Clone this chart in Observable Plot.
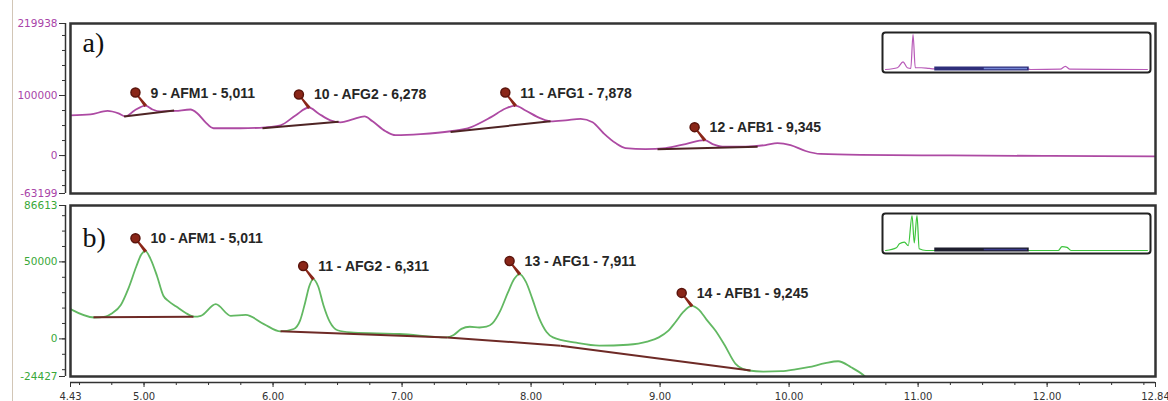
<!DOCTYPE html>
<html>
<head>
<meta charset="utf-8">
<script src="https://cdn.jsdelivr.net/npm/d3@7"></script>
<script src="https://cdn.jsdelivr.net/npm/@observablehq/plot@0.6"></script>
<style>
  html, body { margin: 0; padding: 0; background: #fff; }
  #chart { position: relative; width: 1168px; height: 401px; overflow: hidden; background: #fff; }
  #chart .edge { position: absolute; left: 12px; top: 0; height: 401px; border-left: 1.5px solid #d2c6b6; }
  #chart .slot { position: absolute; }
</style>
</head>
<body>
<div id="chart"><div class="edge"></div></div>
<script>
// ---- shared time axis (min) ----
const timeDomain = [4.43, 12.84];
const timeTicks = [4.43, 5, 6, 7, 8, 9, 10, 11, 12, 12.84];

// ---- a) magenta trace ----
const aYDomain = [-63199, 219938];
const aYTicks = [-63199, 0, 100000, 219938];
const aTime = [4.43, 4.585, 4.717, 4.802, 4.856, 4.926, 5.066, 5.128, 5.244, 5.36, 5.414, 5.477, 5.539,
  5.748, 5.942, 6.058, 6.174, 6.352, 6.445, 6.523, 6.616, 6.709, 6.771, 6.872, 6.949, 7.143, 7.376,
  7.531, 7.686, 7.802, 7.957, 8.074, 8.151, 8.267, 8.384, 8.477, 8.562, 8.655, 8.732, 8.887, 9.042,
  9.197, 9.407, 9.484, 9.663, 9.818, 9.91, 10.011, 10.128, 10.244, 10.554, 11.252, 12.027, 12.84];
const aSignal = [66840, 68490, 74250, 70130, 65190, 75070, 76720, 73430, 74250, 76720, 70130, 55320, 45440,
  45440, 47090, 50380, 66840, 70130, 58610, 55320, 60260, 65190, 56960, 40500, 33920, 35570, 40500,
  47090, 63550, 78360, 75070, 61900, 56960, 58610, 61080, 55320, 37210, 20750, 12510, 10870, 12510,
  19090, 19090, 14980, 14980, 17460, 20750, 17460, 7580, 2640, 990, 170, -650, -1470];
const aPeakId = [9, 10, 11, 12];
const aPeakName = ["AFM1", "AFG2", "AFG1", "AFB1"];
const aPeakTime = [5.011, 6.278, 7.878, 9.345];
const aPeakHeight = [83300, 80010, 83300, 25690];
// integration baselines: [start time, start signal, end time, end signal]
const aBaselines = [
  [4.845, 65200, 5.233, 75070],
  [5.918, 45460, 6.508, 56160],
  [7.376, 39370, 8.151, 56980],
  [8.98, 10380, 9.756, 14660]
];

// ---- b) green trace ----
const bYDomain = [-24427, 86613];
const bYTicks = [-24427, 0, 50000, 86613];
const bTime = [4.43, 4.614, 4.70, 4.75, 4.82, 4.88, 4.94, 4.98, 5.05, 5.10, 5.15, 5.19, 5.25, 5.32, 5.389,
  5.44, 5.556, 5.672, 5.788, 5.929, 6.058, 6.16, 6.21, 6.25, 6.28, 6.35, 6.39, 6.44, 6.50, 6.60,
  6.805, 6.98, 7.345, 7.40, 7.46, 7.525, 7.60, 7.654, 7.70, 7.76, 7.82, 7.87, 7.96, 8.01, 8.06,
  8.12, 8.17, 8.35, 8.529, 8.75, 8.90, 8.99, 9.06, 9.12, 9.18, 9.30, 9.36, 9.43, 9.50, 9.585,
  9.64, 9.687, 9.80, 9.94, 10.05, 10.15, 10.28, 10.38, 10.48, 10.588, 10.65];
const bSignal = [19300, 13880, 14500, 16500, 22000, 33000, 47000, 55000, 52000, 41000, 28000, 24500, 21000, 17000, 14400,
  14980, 22530, 14980, 15620, 9620, 4840, 6400, 12000, 24000, 34000, 34000, 22000, 11000, 5600, 4200,
  3600, 3160, 970, 2500, 6500, 7880, 7400, 7900, 10000, 18000, 30000, 39000, 37000, 26000, 14000,
  4500, 970, -2500, -4390, -3800, -1800, 970, 5000, 11000, 17500, 19000, 12500, 5290, -4000, -16200,
  -19500, -20530, -21200, -20980, -19800, -18400, -15800, -14530, -18400, -24400, -30000];
const bPeakId = [10, 11, 13, 14];
const bPeakName = ["AFM1", "AFG2", "AFG1", "AFB1"];
const bPeakTime = [5.011, 6.311, 7.911, 9.245];
const bPeakHeight = [56940, 38860, 42090, 21430];
const bBaselines = [
  [4.608, 14010, 5.383, 14330],
  [6.058, 4970, 7.352, 970],
  [7.352, 970, 8.228, -4390],
  [8.228, -4390, 9.701, -20530]
];

// ---- overview insets (whole run, min vs % of max) ----
const overviewDomain = [0, 23.5];
const ovATime = [0.09, 1.15, 1.65, 2.03, 2.34, 2.54, 2.74, 3.27, 3.98, 4.43, 12.84, 13.0, 15.65, 16.1, 16.5, 23.4];
const ovASignal = [0, 5, 22, 5, 3, 100, 5, 5, 3, 2, 1, 0, 1, 9, 1, 0];
const ovBTime = [0.1, 1.06, 1.33, 1.77, 2.12, 2.45, 2.65, 2.89, 3.09, 3.7, 15.46, 15.8, 16.25, 16.6, 23.4];
const ovBSignal = [0, 8, 19, 24, 14, 100, 22, 100, 5, 0, 0, 11, 9, 0, 0];

const chart = document.getElementById("chart");
function place(svg, left, top) {
  const slot = document.createElement("div");
  slot.className = "slot";
  slot.style.left = left + "px";
  slot.style.top = top + "px";
  slot.append(svg);
  chart.append(slot);
}

const labelFont = "Liberation Sans, Arial, sans-serif";
const pinColor = "#8a2618";

function drawPanel(cfg) {
  // trace rows with the peak apexes merged in by time
  const rows = cfg.time.map((t, i) => ({t, v: cfg.signal[i]}))
    .concat(cfg.peakTime.map((t, i) => ({t, v: cfg.peakHeight[i]})))
    .sort((a, b) => a.t - b.t);
  const peaks = cfg.peakTime.map((t, i) => ({
    t, v: cfg.peakHeight[i],
    label: `${cfg.peakId[i]} - ${cfg.peakName[i]} - ${t.toFixed(3).replace(".", ",")}`
  }));
  const bases = cfg.baselines.map(([t1, v1, t2, v2]) => ({t1, v1, t2, v2}));
  const [y0, y1] = cfg.yDomain;
  const minor = d3.range(Math.ceil(y0 / cfg.minorStep) * cfg.minorStep, y1, cfg.minorStep);

  const marks = [
    // y axis line just left of the frame
    Plot.ruleX([timeDomain[0]], {dx: -5, stroke: "#333", strokeWidth: 1.5}),
    Plot.axisY({ticks: minor, tickSize: 3, dx: -5, stroke: "#333", tickFormat: () => ""}),
    Plot.axisY({ticks: cfg.yTicks, tickSize: 6, dx: -5, tickPadding: 2, stroke: "#333",
      fill: cfg.labelColor, fontSize: 10.5, tickFormat: d => String(d)}),
    Plot.line(rows, {x: "t", y: "v", stroke: cfg.color, strokeWidth: 1.8, curve: "monotone-x", clip: true}),
    Plot.link(bases, {x1: "t1", y1: "v1", x2: "t2", y2: "v2", stroke: cfg.baseColor, strokeWidth: 2}),
    Plot.vector(peaks, {x: "t", y: "v", rotate: -38, length: 16, anchor: "start", shape: "spike", r: 0.9,
      stroke: pinColor, fill: pinColor}),
    Plot.dot(peaks, {x: "t", y: "v", dx: -10, dy: -13, r: 4.5, fill: pinColor, stroke: "#5a140c"}),
    Plot.text(peaks, {x: "t", y: "v", text: "label", dx: 5, dy: -12.5, textAnchor: "start",
      fontFamily: labelFont, fontSize: 14, fontWeight: "bold", fill: "#262626"}),
    Plot.text([cfg.tag], {frameAnchor: "top-left", dx: 12, dy: cfg.tagDy, lineAnchor: "top", textAnchor: "start",
      fontFamily: "Liberation Serif, serif", fontSize: 28, fill: "#111"}),
    Plot.frame({stroke: "#333", strokeWidth: 2.5})
  ];
  if (cfg.timeAxis) {
    marks.unshift(
      Plot.ruleY([y0], {dy: 6, stroke: "#333", strokeWidth: 1.5}),
      Plot.axisX({ticks: d3.range(4.5, timeDomain[1], 0.25), tickSize: 3, dy: 6, stroke: "#333", tickFormat: () => ""}),
      Plot.axisX({ticks: timeTicks, tickSize: 5, dy: 6, tickPadding: 5, stroke: "#333", fill: "#333",
        fontSize: 10, tickFormat: d => d.toFixed(2)})
    );
  }
  return Plot.plot({
    width: 1168, height: cfg.height,
    marginLeft: 70, marginRight: 13, marginTop: cfg.marginTop, marginBottom: cfg.marginBottom,
    x: {domain: timeDomain, axis: null},
    y: {domain: cfg.yDomain, axis: null},
    style: {fontFamily: "DejaVu Sans, sans-serif", fontSize: "10px", background: "transparent", overflow: "visible"},
    marks
  });
}

function drawOverview(time, signal, color, barColor, barLight) {
  const rows = time.map((t, i) => ({t, v: signal[i]}));
  return Plot.plot({
    width: 270, height: 42,
    marginLeft: 1, marginRight: 1, marginTop: 1, marginBottom: 1,
    x: {domain: overviewDomain, axis: null, inset: 2},
    y: {domain: [0, 100], axis: null, insetTop: 2, insetBottom: 3},
    style: {background: "transparent", overflow: "visible"},
    marks: [
      Plot.line(rows, {x: "t", y: "v", stroke: color, strokeWidth: 1.2, curve: "monotone-x"}),
      Plot.link([timeDomain], {x1: d => d[0], x2: d => d[1], y1: 0, y2: 0, dy: -1, stroke: barColor, strokeWidth: 4}),
      Plot.link([timeDomain], {x1: d => (d[0] + d[1]) / 2 + 0.2, x2: d => d[1] - 0.15, y1: 0, y2: 0, dy: -1,
        stroke: barLight, strokeWidth: 1.5}),
      Plot.frame({stroke: "#222", strokeWidth: 2, rx: 3})
    ]
  });
}

place(drawPanel({
  time: aTime, signal: aSignal, peakId: aPeakId, peakName: aPeakName, peakTime: aPeakTime, peakHeight: aPeakHeight,
  baselines: aBaselines, yDomain: aYDomain, yTicks: aYTicks, minorStep: 25000,
  color: "#ad4aa3", baseColor: "#4e2424", labelColor: "#a844a8", tag: "a)", tagDy: 9,
  height: 199, marginTop: 23, marginBottom: 6, timeAxis: false
}), 0, 0);

place(drawPanel({
  time: bTime, signal: bSignal, peakId: bPeakId, peakName: bPeakName, peakTime: bPeakTime, peakHeight: bPeakHeight,
  baselines: bBaselines, yDomain: bYDomain, yTicks: bYTicks, minorStep: 10000,
  color: "#62b862", baseColor: "#6e2a26", labelColor: "#39a839", tag: "b)", tagDy: 22,
  height: 202, marginTop: 6, marginBottom: 25, timeAxis: true
}), 0, 199);

place(drawOverview(ovATime, ovASignal, "#b85ab8", "#2e2e7a", "#7486d6"), 881, 31);
place(drawOverview(ovBTime, ovBSignal, "#3cc43c", "#1e1e2e", "#3a3a8a"), 881, 212);
</script>
</body>
</html>
